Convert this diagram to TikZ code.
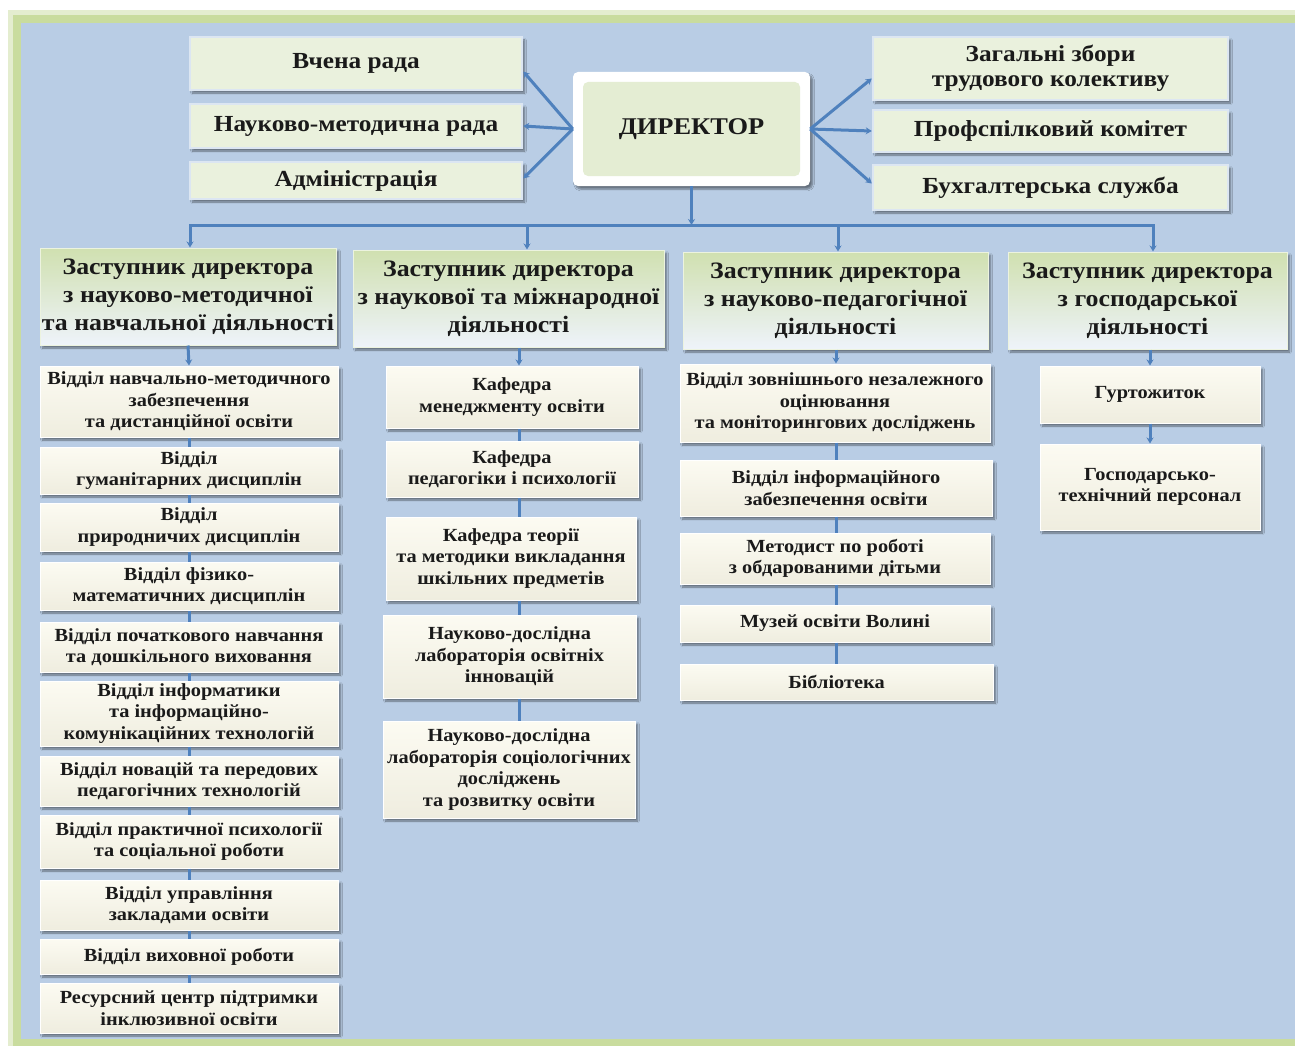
\documentclass[tikz,border=0pt]{standalone}
\usepackage{fontspec}
\setmainfont{Liberation Serif}[FakeStretch=1.1]
\usetikzlibrary{arrows.meta,shadows.blur,calc}
\definecolor{bgblue}{HTML}{B9CDE5}
\definecolor{frameg}{HTML}{C9DC9E}
\definecolor{linkc}{HTML}{4F81BD}
\definecolor{topfill}{HTML}{EAF1DD}
\definecolor{topedge}{HTML}{DCE6F2}
\definecolor{depg}{HTML}{D0E0B0}
\definecolor{depb}{HTML}{EEF3FA}
\definecolor{subt}{HTML}{FCFBF2}
\definecolor{subb}{HTML}{EFEDDF}
\definecolor{dirg}{HTML}{E4EDD3}
\definecolor{txt}{HTML}{1A1A1A}
\newcommand\obox[7]{\node[#1,minimum width={#5-#3},minimum height={#6-#4}] (#2) at ({(#3+#5)/2},{(#4+#6)/2}) {#7};}
\tikzset{
  every node/.style={inner sep=0pt,align=center,text=txt,font=\bfseries},
  shad/.style={blur shadow={shadow xshift=2.5pt,shadow yshift=-3pt,shadow blur steps=6,shadow opacity=45}},
  topbox/.style={shad,fill=topfill,draw=topedge,line width=2.5pt,font=\bfseries\fontsize{23}{25}\selectfont},
  depbox/.style={shad,top color=depg,bottom color=depb,draw=white!60!depg,line width=1pt,font=\bfseries\fontsize{23.5}{28}\selectfont},
  subbox/.style={shad,top color=subt,bottom color=subb,draw=white,line width=1pt,font=\bfseries\fontsize{18.5}{21.5}\selectfont},
  dirbox/.style={shad,fill=white,rounded corners=5pt,font=\bfseries\fontsize{24}{30}\selectfont,
     path picture={\fill[dirg] ([shift={(10pt,-10pt)}]path picture bounding box.north west) rectangle ([shift={(-10pt,10pt)}]path picture bounding box.south east);}},
  link/.style={draw=linkc,line width=3pt},
  arr/.style={link,-{Stealth[length=8pt,width=8pt]}},
  sarr/.style={link,-{Stealth[length=6pt,width=7pt]}}
}
\begin{document}
\begin{tikzpicture}[x=1pt,y=-1pt]
\useasboundingbox (0,0) rectangle (1295,1046);
\fill[white] (0,0) rectangle (1295,1046);
\fill[frameg!50] (8,10) rectangle (1295,1046);
\fill[frameg] (13,15) rectangle (1295,1046);
\fill[bgblue] (21,23) rectangle (1295,1039);
% top row
\obox{topbox}{vr}{190}{37}{522}{90}{Вчена рада}
\obox{topbox}{nmr}{190}{104}{522}{148}{Науково-методична рада}
\obox{topbox}{adm}{190}{162}{522}{199}{Адміністрація}
\obox{dirbox}{dir}{573}{72}{810}{186}{ДИРЕКТОР}
\obox{topbox}{zz}{873}{37}{1228}{100}{Загальні збори\\трудового колективу}
\obox{topbox}{pk}{873}{110}{1228}{152}{Профспілковий комітет}
\obox{topbox}{bs}{873}{165}{1228}{210}{Бухгалтерська служба}
\draw[sarr] (dir.west) -- ([yshift=-8pt]vr.east);
\draw[sarr] (dir.west) -- (nmr.east);
\draw[sarr] (dir.west) -- ([yshift=2pt]adm.east);
\draw[sarr] (dir.east) -- ([yshift=-10pt]zz.west);
\draw[sarr] (dir.east) -- (pk.west);
\draw[sarr] (dir.east) -- ([yshift=4pt]bs.west);
% deputies
\obox{depbox}{d1}{40}{248}{336}{345}{Заступник директора\\з науково-методичної\\та навчальної діяльності}
\obox{depbox}{d2}{353}{250}{664}{347}{Заступник директора\\з наукової та міжнародної\\діяльності}
\obox{depbox}{d3}{683}{252}{988}{349}{Заступник директора\\з науково-педагогічної\\діяльності}
\obox{depbox}{d4}{1008}{252}{1287}{349}{Заступник директора\\з господарської\\діяльності}
\coordinate (b1) at (190,225);
\coordinate (b2) at (527,225);
\coordinate (b3) at (838,225);
\coordinate (b4) at (1153,225);
\draw[sarr] (dir.south) -- (dir.south |- b1);
\draw[link,line cap=rect] (b1) -- (b4);
\draw[sarr] (b1) -- (b1 |- d1.north);
\draw[sarr] (b2) -- (b2 |- d2.north);
\draw[sarr] (b3) -- (b3 |- d3.north);
\draw[sarr] (b4) -- (b4 |- d4.north);
% column 1
\obox{subbox}{c11}{40}{366}{338}{437}{Відділ навчально-методичного\\забезпечення\\та дистанційної освіти}
\obox{subbox}{c12}{40}{447}{338}{494}{Відділ\\гуманітарних дисциплін}
\obox{subbox}{c13}{40}{503}{338}{551}{Відділ\\природничих дисциплін}
\obox{subbox}{c14}{40}{562}{338}{610}{Відділ фізико-\\математичних дисциплін}
\obox{subbox}{c15}{40}{622}{338}{672}{Відділ початкового навчання\\та дошкільного виховання}
\obox{subbox}{c16}{40}{681}{338}{746}{Відділ інформатики\\та інформаційно-\\комунікаційних технологій}
\obox{subbox}{c17}{40}{756}{338}{806}{Відділ новацій та передових\\педагогічних технологій}
\obox{subbox}{c18}{40}{815}{338}{868}{Відділ практичної психології\\та соціальної роботи}
\obox{subbox}{c19}{40}{880}{338}{930}{Відділ управління\\закладами освіти}
\obox{subbox}{c110}{40}{939}{338}{974}{Відділ виховної роботи}
\obox{subbox}{c111}{40}{983}{338}{1033}{Ресурсний центр підтримки\\інклюзивної освіти}
\draw[sarr] (d1.south) -- (c11.north);
\foreach \a/\b in {c11/c12,c12/c13,c13/c14,c14/c15,c15/c16,c16/c17,c17/c18,c18/c19,c19/c110,c110/c111}
  \draw[link] (\a.south) -- (\b.north);
% column 2
\obox{subbox}{c21}{386}{366}{638}{428}{Кафедра\\менеджменту освіти}
\obox{subbox}{c22}{386}{441}{638}{497}{Кафедра\\педагогіки і психології}
\obox{subbox}{c23}{386}{517}{636}{600}{Кафедра теорії\\та методики викладання\\шкільних предметів}
\obox{subbox}{c24}{383}{615}{636}{698}{Науково-дослідна\\лабораторія освітніх\\інновацій}
\obox{subbox}{c25}{383}{721}{635}{818}{Науково-дослідна\\лабораторія соціологічних\\досліджень\\та розвитку освіти}
\coordinate (k2) at (519,0);
\draw[sarr] (k2 |- d2.south) -- (k2 |- c21.north);
\foreach \a/\b in {c21/c22,c22/c23,c23/c24,c24/c25}
  \draw[link] (k2 |- \a.south) -- (k2 |- \b.north);
% column 3
\obox{subbox}{c31}{680}{364}{990}{442}{Відділ зовнішнього незалежного\\оцінювання\\та моніторингових досліджень}
\obox{subbox}{c32}{680}{460}{992}{516}{Відділ інформаційного\\забезпечення освіти}
\obox{subbox}{c33}{680}{533}{990}{584}{Методист по роботі\\з обдарованими дітьми}
\obox{subbox}{c34}{680}{605}{990}{642}{Музей освіти Волині}
\obox{subbox}{c35}{680}{664}{993}{700}{Бібліотека}
\coordinate (k3) at (836,0);
\draw[sarr] (k3 |- d3.south) -- (k3 |- c31.north);
\foreach \a/\b in {c31/c32,c32/c33,c33/c34,c34/c35}
  \draw[link] (k3 |- \a.south) -- (k3 |- \b.north);
% column 4
\obox{subbox}{c41}{1040}{366}{1260}{423}{Гуртожиток}
\obox{subbox}{c42}{1040}{444}{1260}{530}{Господарсько-\\технічний персонал}
\coordinate (k4) at (1150,0);
\draw[sarr] (k4 |- d4.south) -- (k4 |- c41.north);
\draw[sarr] (k4 |- c41.south) -- (k4 |- c42.north);
\end{tikzpicture}
\end{document}
